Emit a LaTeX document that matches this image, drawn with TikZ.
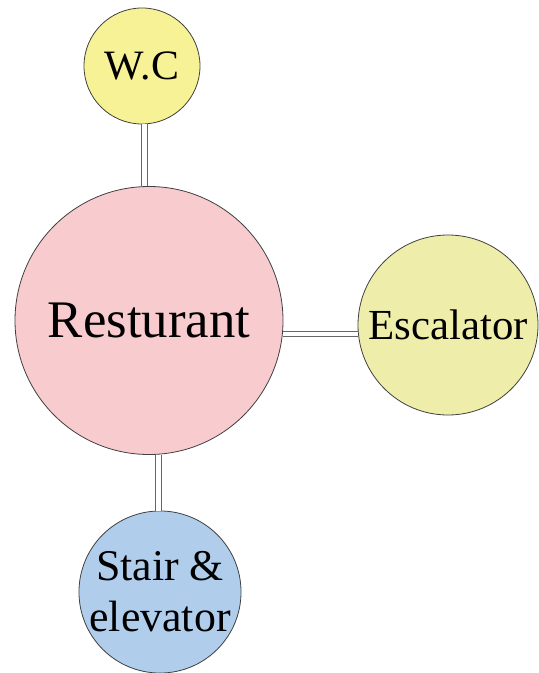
\documentclass[tikz,border=0pt]{standalone}
\usepackage{fontspec}
\setmainfont{Liberation Serif}
\begin{document}
\begin{tikzpicture}[x=1bp,y=-1bp,
  room/.style={circle, draw=black!75, line width=0.8bp, inner sep=0pt, align=center, text=black},
  link/.style={draw=black!60, line width=1bp, double=white, double distance=4.2bp}]
\definecolor{wcfill}{RGB}{247,242,150}
\definecolor{escfill}{RGB}{238,238,170}
\definecolor{restfill}{RGB}{248,203,206}
\definecolor{stairfill}{RGB}{176,206,236}
\useasboundingbox (0,0) rectangle (539,673);

\node[room, fill=wcfill, minimum size=116bp, font=\fontsize{42}{46}\selectfont] (wc) at (142,66) {W.C};
\node[room, fill=restfill, minimum size=268bp, font=\fontsize{53}{58}\selectfont] (rest) at (149,320.5) {Resturant};
\node[room, fill=escfill, minimum size=180bp, font=\fontsize{43}{47}\selectfont] (esc) at (448,325) {Escalator};
\node[room, fill=stairfill, minimum size=160bp, font=\fontsize{44}{51}\selectfont] (stair) at (160,592) {Stair \&\\elevator};

% double-line corridors between the rooms
\coordinate (wcfoot) at ([xshift=2.5bp]wc.south);
\coordinate (restside) at ([yshift=-13.5bp]rest.east);
\coordinate (stairtop) at ([xshift=-1.5bp]stair.north);
\draw[link] (wcfoot) -- (wcfoot |- rest.north);
\draw[link] (restside) -- (restside -| esc.west);
\draw[link] (stairtop) -- (stairtop |- rest.south);
\end{tikzpicture}
\end{document}
